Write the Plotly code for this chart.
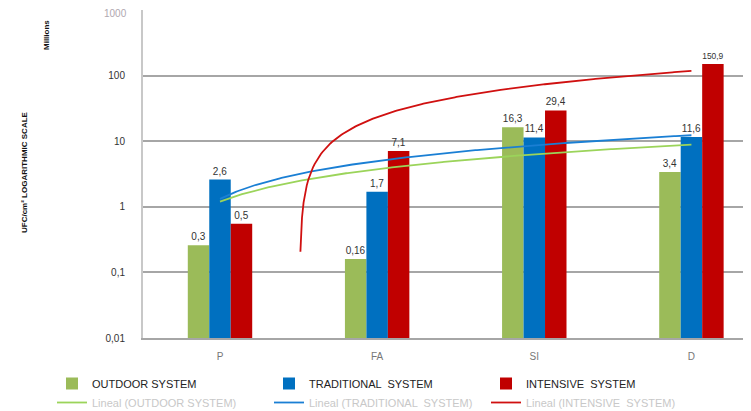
import numpy as np
import plotly.graph_objects as go

categories = ["P", "FA", "SI", "D"]
outdoor = [0.26, 0.16, 16.3, 3.4]
traditional = [2.6, 1.7, 11.4, 11.6]
intensive = [0.55, 7.1, 29.4, 150.9]
outdoor_labels = ["0,3", "0,16", "16,3", "3,4"]
traditional_labels = ["2,6", "1,7", "11,4", "11,6"]
intensive_labels = ["0,5", "7,1", "29,4", "150,9"]
y_tickvals = [0.01, 0.1, 1, 10, 100, 1000]
y_ticktext = ["0,01", "0,1", "1", "10", "100", "1000"]

GREEN = "#9bbb59"
BLUE = "#0070c0"
RED = "#c00000"

xi = list(range(len(categories)))
fig = go.Figure()

series = [
    ("OUTDOOR SYSTEM", outdoor, outdoor_labels, GREEN, "#9bd45a", "legend"),
    ("TRADITIONAL  SYSTEM", traditional, traditional_labels, BLUE, "#1a7fd4", "legend2"),
    ("INTENSIVE  SYSTEM", intensive, intensive_labels, RED, "#d01010", "legend3"),
]

for name, vals, labs, col, _, lg in series:
    fig.add_trace(go.Bar(
        x=xi, y=vals, name=name, marker=dict(color=col, line=dict(width=0)),
        text=labs, textposition="outside", cliponaxis=False, legend=lg,
        textfont=dict(family="Liberation Sans Narrow, Arial Narrow, Liberation Sans", size=10, color="#333333"),
    ))

# linear trendlines (Excel-style least squares fit on the category index 1..n)
xs = np.array(xi, dtype=float) + 1
xfine = np.linspace(1, len(categories), 300)
for name, vals, labs, col, lcol, lg in series:
    k, b = np.polyfit(xs, np.array(vals, dtype=float), 1)
    yf = k * xfine + b
    mask = yf > 0.16
    fig.add_trace(go.Scatter(
        x=(xfine[mask] - 1), y=yf[mask], mode="lines", legend=lg,
        name='<span style="color:#c8c8c8">Lineal (' + name + ')</span>',
        line=dict(color=lcol, width=1.8),
    ))

# the page body adds an 8px offset; targets below are in window pixels
OFF = 8
W, H = 751, 411
L, R, T, B = 143 - OFF, 0, 10 - OFF, 73 + OFF

def legend_at(px):
    return dict(
        orientation="v", xref="container", yref="container",
        x=(px - OFF) / W, xanchor="left", y=1 - (369 - OFF) / H, yanchor="top",
        traceorder="normal", font=dict(size=11, color="#222222"),
        itemwidth=30, tracegroupgap=0, bgcolor="rgba(0,0,0,0)",
    )

# the top tick (at the very edge of the plot) is written as a label nudged inside the page
top_val, top_txt = y_tickvals[-1], y_ticktext[-1]

fig.update_layout(
    width=W, height=H,
    margin=dict(l=L, r=R, t=T, b=B, autoexpand=False),
    paper_bgcolor="white", plot_bgcolor="white",
    barmode="group", bargap=0.59, bargroupgap=0,
    font=dict(family="Liberation Sans Narrow, Arial Narrow, Liberation Sans", size=10, color="#333333"),
    showlegend=True,
    legend=legend_at(52),
    legend2=legend_at(269),
    legend3=legend_at(486),
    xaxis=dict(
        tickmode="array", tickvals=xi, ticktext=categories,
        range=[-0.49, 3.43], showgrid=False, zeroline=False,
        showline=True, linecolor="#a6a6a6", linewidth=2,
        ticks="", tickfont=dict(size=10, color="#777777"), ticklabelstandoff=8,
    ),
    yaxis=dict(
        type="log", range=[-2, 3], tickmode="array",
        tickvals=y_tickvals[:-1], ticktext=y_ticktext[:-1],
        showgrid=True, gridcolor="#a6a6a6", gridwidth=1.5,
        showline=True, linecolor="#c8c8c8", linewidth=2,
        ticks="", tickfont=dict(size=10, color="#333333"), ticklabelstandoff=14,
        zeroline=False,
    ),
)

pw = W - L - R
ph = H - T - B
def ann(text, px, py):
    fx, fy = px - OFF, py - OFF
    return dict(text=text, xref="paper", yref="paper", x=(fx - L) / pw, y=1 - (fy - T) / ph,
                xanchor="center", yanchor="middle", showarrow=False, textangle=-90,
                font=dict(size=8, color="#111111"))

fig.update_layout(annotations=[
    ann("<b>UFC/cm² LOGARITHMIC SCALE</b>", 24, 172),
    ann("<b>Millions</b>", 47, 35),
    dict(text=top_txt, xref="paper", yref="y", x=0, y=np.log10(top_val), xanchor="right",
         yanchor="top", xshift=-14, yshift=4, showarrow=False,
         font=dict(size=10, color="#b0a8b0")),
])

fig.write_html("out.html")
